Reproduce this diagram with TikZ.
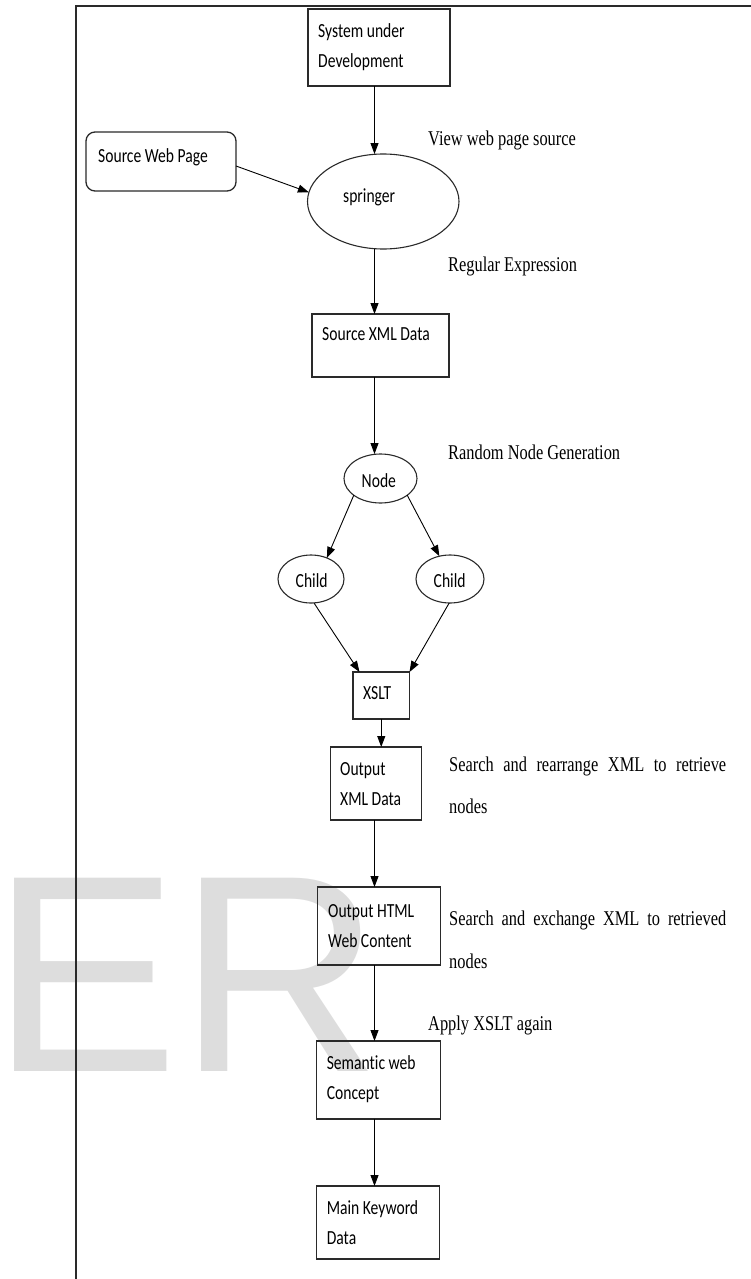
\documentclass[tikz,border=0pt]{standalone}
\usepackage{fontspec}
\setmainfont{Liberation Serif}
\newfontfamily\boxfont[FakeStretch=0.78,Ligatures=NoCommon]{Carlito}
\newfontfamily\notefont[FakeStretch=0.78]{Liberation Serif}
\newfontfamily\markfont{Liberation Sans}
\usetikzlibrary{shapes.geometric,arrows.meta}
\definecolor{framegray}{HTML}{2A2A2A}
\definecolor{markgray}{HTML}{DDDDDD}

\begin{document}
\begin{tikzpicture}[x=1pt,y=-1pt,
  box/.style={draw=framegray,line width=1.3pt,rectangle,inner sep=0pt,outer sep=0pt},
  oval/.style={draw=framegray,line width=1.1pt,ellipse,inner sep=0pt,outer sep=0pt},
  lbl/.style={anchor=base west,inner sep=0pt,text=black,font=\boxfont\fontsize{20}{30}\selectfont},
  note/.style={anchor=base west,inner sep=0pt,text=black,font=\notefont\fontsize{21}{42}\selectfont},
  arr/.style={draw=black,line width=0.9pt,-{Triangle[length=11pt,width=8pt]}},
]
\useasboundingbox (0,0) rectangle (751,1279);

% faint watermark letters behind the chart
\node[anchor=base west,inner sep=0pt,text=markgray,
      font=\markfont\fontsize{281}{281}\selectfont] (wm) at (0,1071) {\hspace*{-9pt}ER};

% page frame (left and top rules)
\coordinate (fbl) at (76,1279);
\coordinate (ftl) at (76,6);
\coordinate (ftr) at (751,6);
\draw[framegray,line width=1.5pt] (fbl) -- (ftl) -- (ftr);

% shapes
\node[box,minimum width=142pt,minimum height=77pt] (sys) at (379,47.5) {};
\node[box,rounded corners=9pt,minimum width=150pt,minimum height=59pt] (src) at (161,161.5) {};
\node[oval,minimum width=151.5pt,minimum height=95pt] (spr) at (383.25,201.5) {};
\node[box,minimum width=137pt,minimum height=63pt] (srcxml) at (380.5,345.5) {};
\node[oval,minimum width=73pt,minimum height=49pt] (nd) at (380.5,478.5) {};
\node[oval,minimum width=66pt,minimum height=48pt] (chL) at (311,579) {};
\node[oval,minimum width=68pt,minimum height=48pt] (chR) at (450,579) {};
\node[box,minimum width=56.5pt,minimum height=47pt] (xslt) at (381.25,695.5) {};
\node[box,minimum width=91pt,minimum height=73pt] (outxml) at (376,783.5) {};
\node[box,minimum width=123pt,minimum height=78pt] (outhtml) at (379,926) {};
\node[box,minimum width=124pt,minimum height=78pt] (sem) at (378.6,1080) {};
\node[box,minimum width=123pt,minimum height=73pt] (main) at (378.2,1222.5) {};

% labels inside the shapes
\node[lbl] (sysT1) at (318,38) {System under};
\node[lbl] (sysT2) at (318,68) {Development};
\node[lbl] (srcT) at (98,162) {Source Web Page};
\node[lbl] (sprT) at (343,202) {springer};
\node[lbl] (srcxmlT) at (322,340) {Source XML Data};
\node[lbl] (ndT) at (361.5,487) {Node};
\node[lbl] (chLT) at (295.5,587) {Child};
\node[lbl] (chRT) at (433.5,587) {Child};
\node[lbl] (xsltT) at (363,699) {XSLT};
\node[lbl] (outxmlT1) at (340,775) {Output};
\node[lbl] (outxmlT2) at (340,805) {XML Data};
\node[lbl] (outhtmlT1) at (328,917) {Output HTML};
\node[lbl] (outhtmlT2) at (328,947) {Web Content};
\node[lbl] (semT1) at (326.6,1069) {Semantic web};
\node[lbl] (semT2) at (326.6,1099) {Concept};
\node[lbl] (mainT1) at (326.6,1214) {Main Keyword};
\node[lbl] (mainT2) at (326.6,1244) {Data};

% step annotations
\node[note] (n1) at (428,146) {View web page source};
\node[note] (n2) at (448,271) {Regular Expression};
\node[note] (n3) at (448,459) {Random Node Generation};
\node[note] (n4a) at (449,771) {\makebox[277pt][s]{Search and rearrange XML to retrieve}};
\node[note] (n4b) at (449,813) {nodes};
\node[note] (n5a) at (449,925) {\makebox[277pt][s]{Search and exchange XML to retrieved}};
\node[note] (n5b) at (449,968) {nodes};
\node[note] (n6) at (428,1030) {Apply XSLT again};

% connectors
\coordinate (col) at (374.5,0);
\draw[arr] (sys.south -| col) -- (spr.north -| col);
\draw[arr] ([yshift=-4.5pt]src.east) -- (spr.173);
\draw[arr] (spr.south -| col) -- (srcxml.north -| col);
\draw[arr] (srcxml.south -| col) -- (nd.north -| col);
\draw[arr] (nd.212) -- (chL.53);
\draw[arr] (nd.328) -- (chR.115);
\draw[arr] (chL.277) -- ([xshift=6.5pt]xslt.north west);
\draw[arr] (chR.268) -- (xslt.north east);
\draw[arr] (xslt.south) -- (xslt.south |- outxml.north);
\draw[arr] (outxml.south -| col) -- (outhtml.north -| col);
\draw[arr] (outhtml.south -| col) -- (sem.north -| col);
\draw[arr] (sem.south -| col) -- (main.north -| col);
\end{tikzpicture}
\end{document}
